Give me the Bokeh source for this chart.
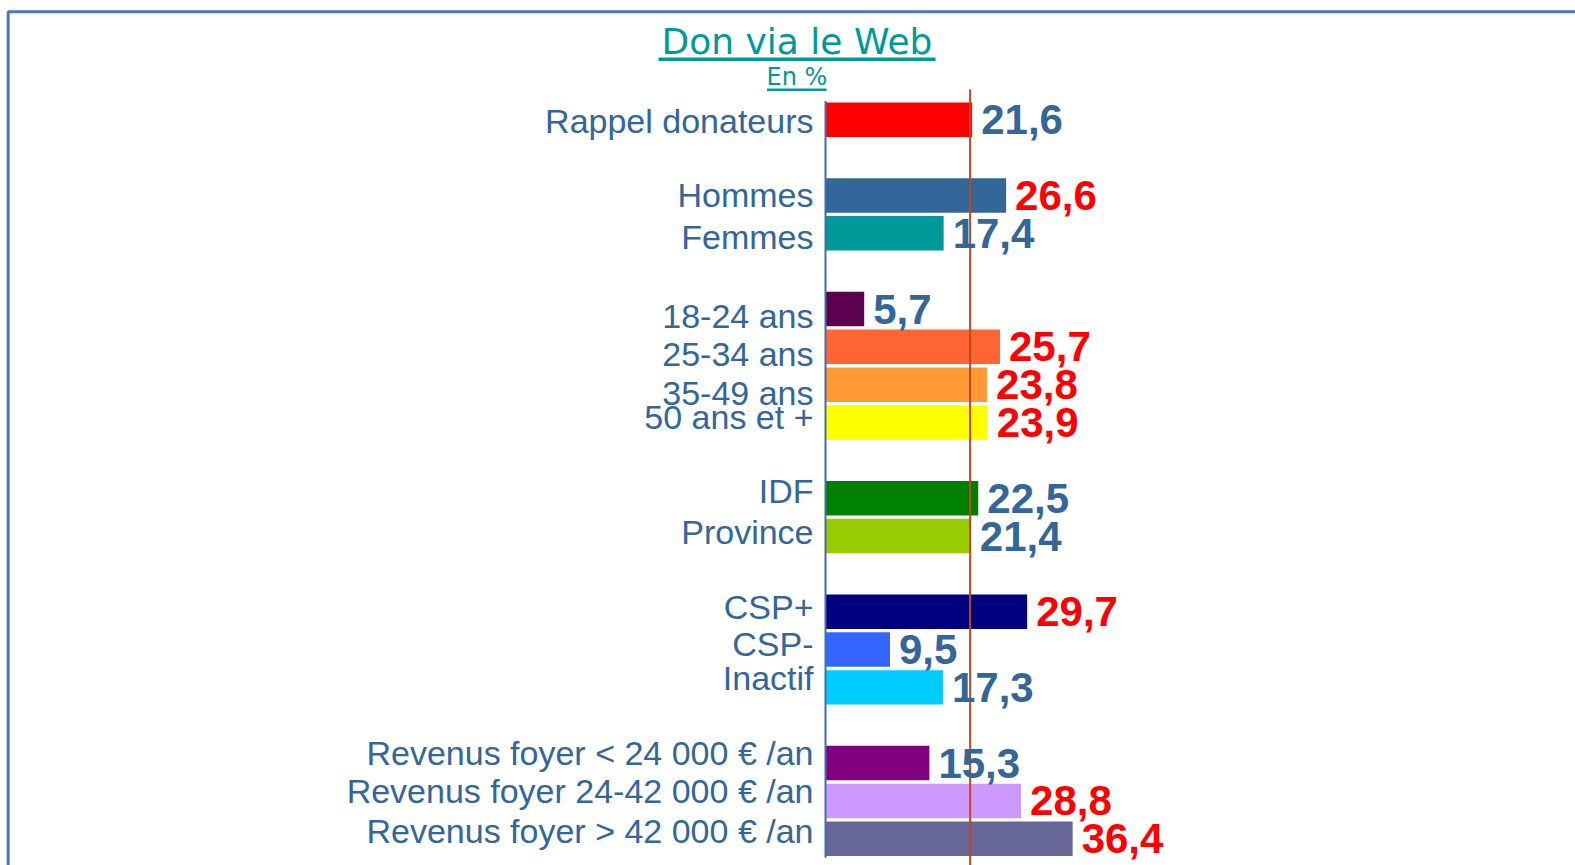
from bokeh.plotting import figure
from bokeh.models import Range1d, BoxAnnotation, ColumnDataSource, Label
from bokeh.core.properties import value
from bokeh.embed import file_html
from bokeh.resources import INLINE

# ---------------- data ----------------
title = "Don via le Web"
subtitle = "En %"

groups = [
    ["Rappel donateurs"],
    ["Hommes", "Femmes"],
    ["18-24 ans", "25-34 ans", "35-49 ans", "50 ans et +"],
    ["IDF", "Province"],
    ["CSP+", "CSP-", "Inactif"],
    ["Revenus foyer < 24 000 € /an",
     "Revenus foyer 24-42 000 € /an",
     "Revenus foyer > 42 000 € /an"],
]
values = [21.6, 26.6, 17.4, 5.7, 25.7, 23.8, 23.9, 22.5, 21.4,
          29.7, 9.5, 17.3, 15.3, 28.8, 36.4]
significant = [False, True, False, False, True, True, True, False, False,
               True, False, False, False, True, True]
reference = 21.3

# ---------------- styles ----------------
bar_colors = ["#FF0000", "#336699", "#009999", "#5C0050", "#FF6633", "#FF9933",
              "#FFFF00", "#008000", "#99CC00", "#000080", "#3366FF", "#00CCFF",
              "#800080", "#CC99FF", "#666699"]
# small vertical nudges (px) of the category labels, as in the original slide
label_nudge_px = [1, 0, 4, 7, 7, 8, -6, -7, -4, -5, -6, -9, -10, -10, -8]

# ---------------- layout helpers ----------------
W, H = 1575, 865
ZERO_PX, PX_PER_UNIT = 825.0, 6.79
FIRST_SLOT_PX, SLOT_PX = 119.3, 37.84


def px_to_x(px):
    return (px - ZERO_PX) / PX_PER_UNIT


def px_to_y(py):
    return (py - FIRST_SLOT_PX) / SLOT_PX


categories, slots = [], []
s = 0
for g in groups:
    for c in g:
        categories.append(c)
        slots.append(s)
        s += 1
    s += 1  # blank slot between groups

labels = [f"{v:.1f}".replace(".", ",") for v in values]
label_colors = ["#FF0000" if sig else "#336699" for sig in significant]

src = ColumnDataSource(dict(y=slots, cat=categories, v=values, lab=labels,
                            color=bar_colors, lcolor=label_colors,
                            nudge=label_nudge_px))

p = figure(width=W, height=H, output_backend="svg", toolbar_location=None,
           x_range=Range1d(px_to_x(0), px_to_x(W)),
           y_range=Range1d(px_to_y(H), px_to_y(0)),
           x_axis_type=None, y_axis_type=None)
p.min_border = 0
p.min_border_left = p.min_border_right = p.min_border_top = p.min_border_bottom = 0
p.outline_line_color = None
p.background_fill_color = "white"
p.border_fill_color = "white"
p.grid.visible = False

# frame border (top and left)
p.add_layout(BoxAnnotation(left=px_to_x(7.7), right=px_to_x(W + 40),
                           top=px_to_y(11.3), bottom=px_to_y(H + 40),
                           fill_alpha=0, line_color="#4A7AB5", line_alpha=1,
                           line_width=3))

# bars
p.hbar(y="y", left=0, right="v", height=0.91, fill_color="color",
       line_color=None, source=src)

# axis line
p.segment(x0=[0], y0=[slots[0] - 0.5], x1=[0], y1=[slots[-1] + 0.5],
          line_color="#3F6FA8", line_width=2)

# reference line
p.segment(x0=[reference], y0=[px_to_y(89)], x1=[reference], y1=[px_to_y(H + 20)],
          line_color="#C0461F", line_width=2)

# category labels
p.text(x=0, y="y", text="cat", source=src, x_offset=-12, y_offset="nudge",
       text_align="right", text_baseline="middle",
       text_font=value("Liberation Sans"), text_font_size="34px",
       text_color="#336699")

# value labels
p.text(x="v", y="y", text="lab", source=src, x_offset=9,
       text_align="left", text_baseline="middle",
       text_font=value("Liberation Sans"), text_font_style="bold",
       text_font_size="42px", text_color="lcolor")

# title and subtitle
p.add_layout(Label(x=px_to_x(796.5), y=px_to_y(40.5), text=title,
                   text_align="center", text_baseline="middle",
                   text_font="DejaVu Sans", text_font_size="36px",
                   text_color="#009999"))
p.add_layout(BoxAnnotation(left=px_to_x(658), right=px_to_x(935),
                           top=px_to_y(57), bottom=px_to_y(60.5),
                           fill_color="#009999", fill_alpha=1, line_color=None))
p.add_layout(Label(x=px_to_x(796.5), y=px_to_y(76), text=subtitle,
                   text_align="center", text_baseline="middle",
                   text_font="DejaVu Sans", text_font_size="24px",
                   text_color="#009999"))
p.add_layout(BoxAnnotation(left=px_to_x(766.5), right=px_to_x(826),
                           top=px_to_y(88), bottom=px_to_y(90.5),
                           fill_color="#009999", fill_alpha=1, line_color=None))

open("out.html", "w").write(file_html(p, INLINE))
